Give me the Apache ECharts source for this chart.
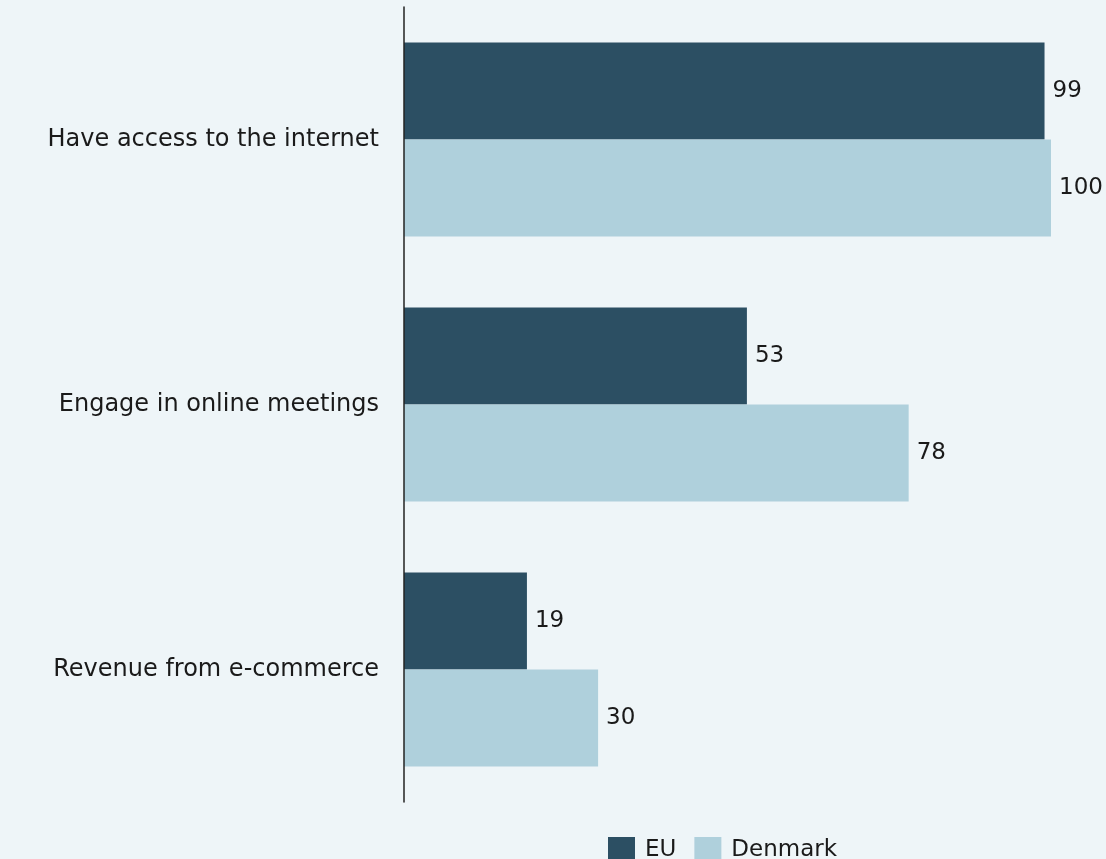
<!DOCTYPE html>
<html>
<head>
<meta charset="utf-8">
<style>
  html, body { margin: 0; padding: 0; background: #eef5f8; }
  #chart { width: 1106px; height: 859px; }
</style>
<script src="https://cdn.jsdelivr.net/npm/echarts@6/dist/echarts.min.js"></script>
</head>
<body>
<div id="chart"></div>
<script>
// Share of enterprises (%), EU average vs Denmark
const categories = ['Have access to the internet', 'Engage in online meetings', 'Revenue from e-commerce'];
const euValues = [99, 53, 19];
const denmarkValues = [100, 78, 30];
const seriesNames = ['EU', 'Denmark'];

const FONT = 'DejaVu Sans';
const TEXT = '#1a1a1a';
const chart = echarts.init(document.getElementById('chart'));

const valueLabel = { show: true, position: 'right', distance: 8, fontFamily: FONT, fontSize: 23, color: TEXT };

chart.setOption({
  backgroundColor: '#eef5f8',
  textStyle: { fontFamily: FONT, color: TEXT },
  grid: { left: 404, right: 55, top: 7, bottom: 57 },
  legend: {
    data: seriesNames,
    left: 603,
    top: 832,
    itemWidth: 27,
    itemHeight: 26,
    itemGap: 18,
    icon: 'rect',
    textStyle: { fontFamily: FONT, fontSize: 23, color: TEXT, padding: [0, 0, 0, 5] }
  },
  xAxis: {
    type: 'value',
    min: 0,
    max: 100,
    show: false
  },
  yAxis: {
    type: 'category',
    data: categories,
    inverse: true,
    z: 5,
    axisLine: { show: true, lineStyle: { color: '#222', width: 1.5 } },
    axisTick: { show: false },
    axisLabel: { margin: 25, fontFamily: FONT, fontSize: 24, color: TEXT }
  },
  series: [
    {
      name: seriesNames[0],
      type: 'bar',
      data: euValues,
      barGap: '0%',
      barCategoryGap: '26.8%',
      itemStyle: { color: '#2c4f63' },
      label: valueLabel
    },
    {
      name: seriesNames[1],
      type: 'bar',
      data: denmarkValues,
      barGap: '0%',
      barCategoryGap: '26.8%',
      itemStyle: { color: '#afd0dc' },
      label: valueLabel
    }
  ]
});
</script>
</body>
</html>
